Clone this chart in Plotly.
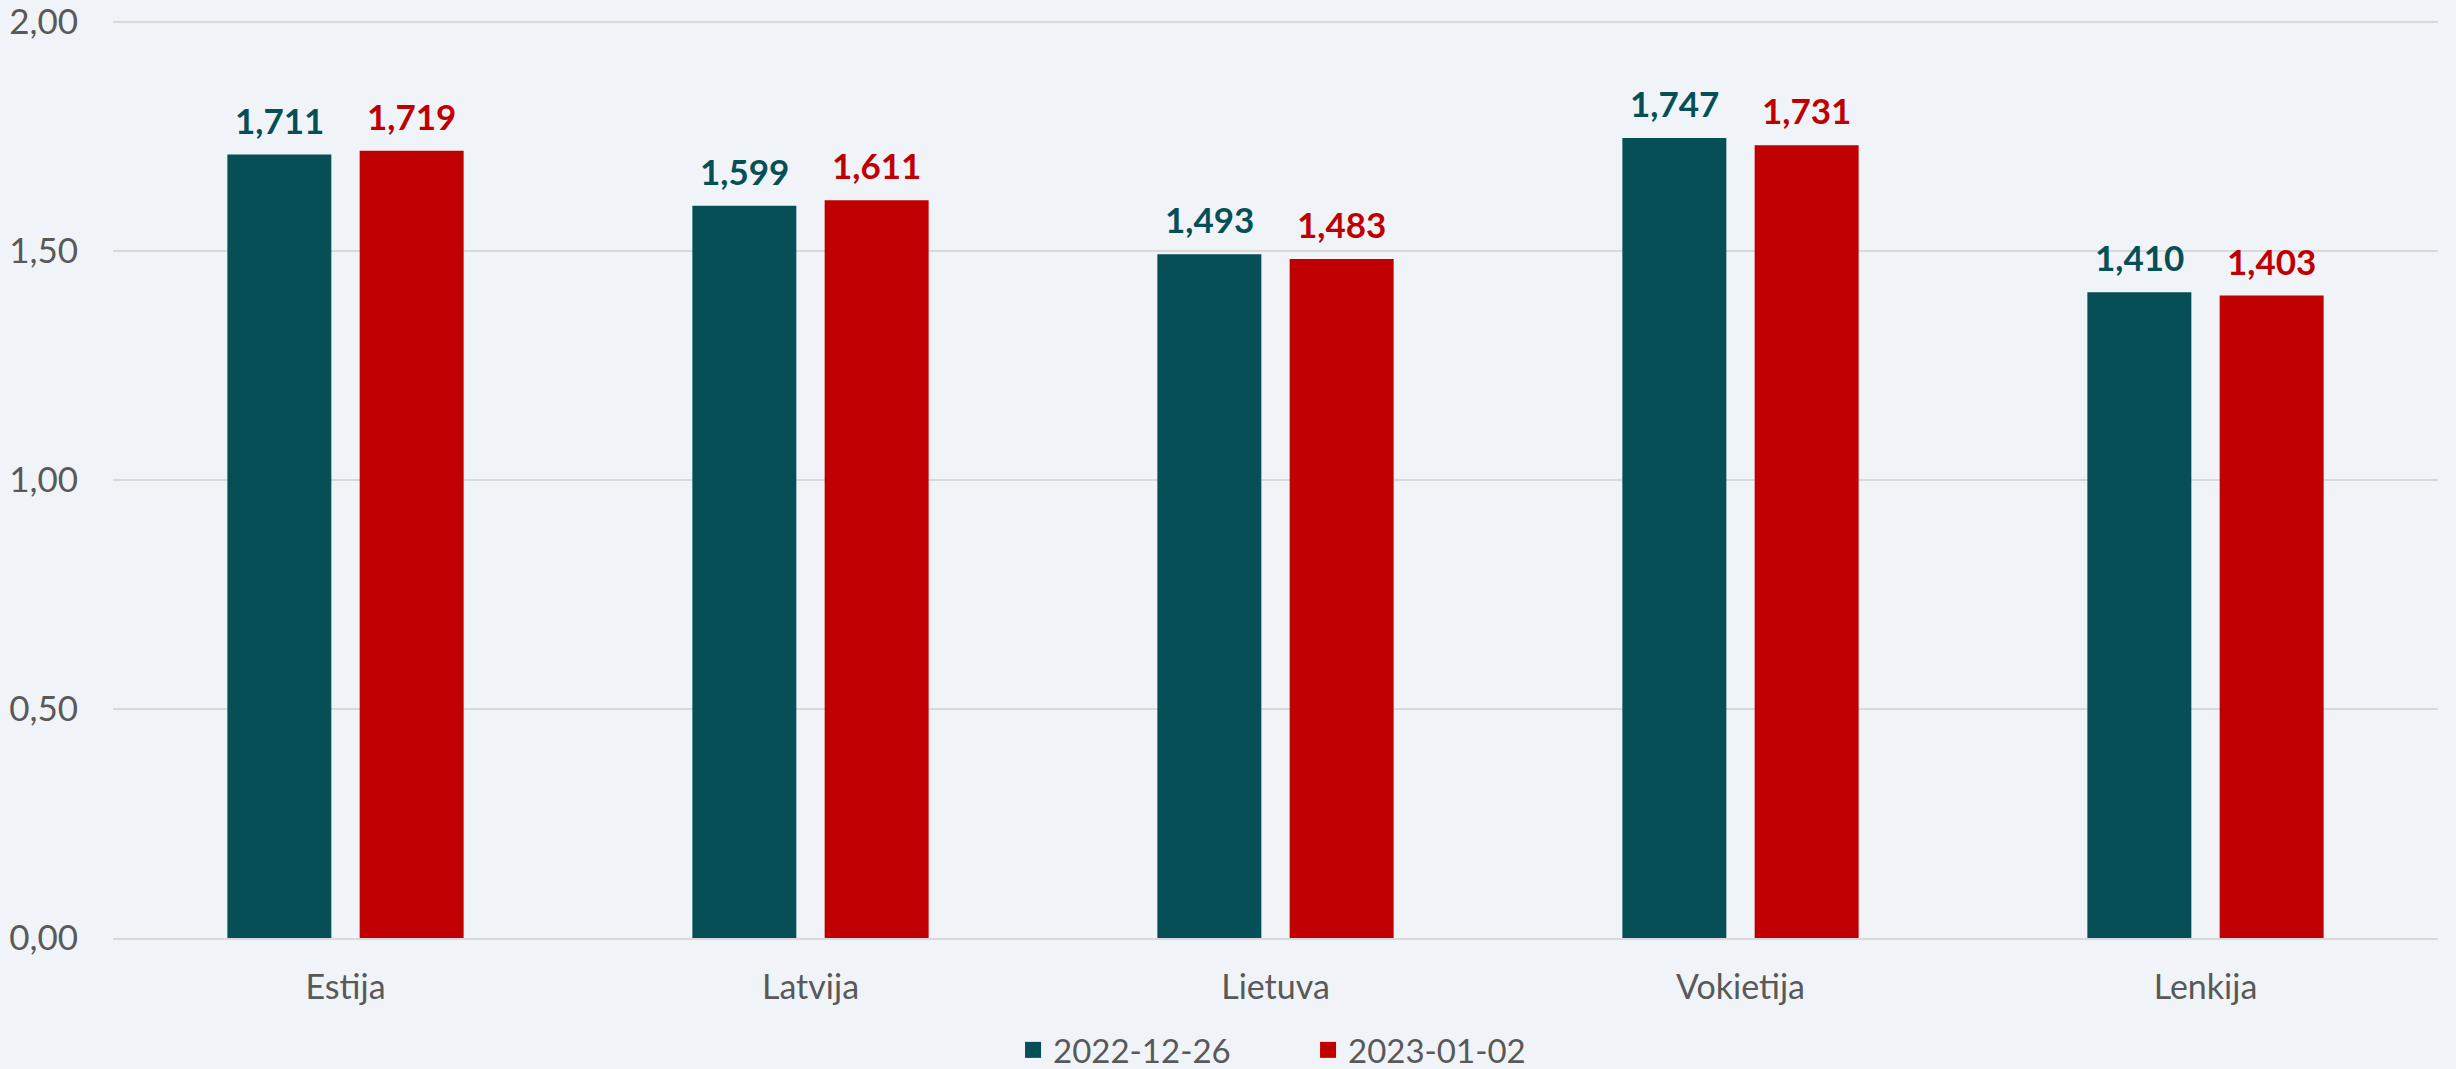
import plotly.graph_objects as go

# Fuel prices by country, two weekly snapshots
countries = ["Estija", "Latvija", "Lietuva", "Vokietija", "Lenkija"]
series_names = ["2022-12-26", "2023-01-02"]
prices_dec26 = [1.711, 1.599, 1.493, 1.747, 1.410]
prices_jan02 = [1.719, 1.611, 1.483, 1.731, 1.403]
y_ticks = [0.0, 0.5, 1.0, 1.5, 2.0]

TEAL = "#074F57"
RED = "#C00000"
BG = "#F0F4F8"
GREY_TEXT = "#595959"
FONT = "Lato"

fig = go.Figure()
for name, vals, color in [(series_names[0], prices_dec26, TEAL),
                          (series_names[1], prices_jan02, RED)]:
    fig.add_trace(go.Bar(
        x=countries, y=vals, name=name, showlegend=False,
        marker=dict(color=color, line=dict(width=0)),
        hoverinfo="x+y",
    ))
    # legend-only entry so the square can be drawn a bit bigger
    fig.add_trace(go.Scatter(
        x=[None], y=[None], mode="markers", name=name,
        marker=dict(color=color, symbol="square", size=16),
    ))

# data labels above the bars, shifted onto each bar of the group
half_slot = 66
for vals, color, shift in [(prices_dec26, TEAL, -half_slot),
                           (prices_jan02, RED, half_slot)]:
    for c, v in zip(countries, vals):
        fig.add_annotation(
            x=c, y=v, xref="x", yref="y", xshift=shift, yshift=12,
            text=f"{v:.3f}".replace(".", ","), showarrow=False,
            yanchor="bottom",
            font=dict(family=FONT, size=35, color=color, weight="bold"),
        )

fig.update_layout(
    width=2456, height=1069,
    margin=dict(l=113, r=18, t=13, b=131, autoexpand=False),
    paper_bgcolor=BG, plot_bgcolor=BG,
    barmode="group", bargap=0.431, bargroupgap=0.214,
    separators=", ",
    font=dict(family=FONT, size=34, color=GREY_TEXT),
    showlegend=True,
    legend=dict(
        orientation="h", x=0.514, xanchor="center", y=-0.121, yanchor="middle",
        font=dict(size=33, color=GREY_TEXT), bgcolor="rgba(0,0,0,0)",
        itemsizing="trace", traceorder="normal", entrywidth=250,
    ),
    xaxis=dict(
        showgrid=False, showline=True, linecolor="#D9D9D9", linewidth=2,
        ticks="", ticklabelstandoff=18, tickfont=dict(size=34, color=GREY_TEXT),
        automargin=False,
    ),
    yaxis=dict(
        range=[0, 2.02], tickvals=y_ticks, tickformat=".2f",
        showgrid=True, gridcolor="#D9D9D9", gridwidth=2,
        zeroline=False, showline=False, ticks="",
        ticklabelstandoff=34, tickfont=dict(size=35, color=GREY_TEXT),
        ticklabeloverflow="allow", automargin=False,
    ),
)

fig.write_html("out.html", config={"displayModeBar": False},
               post_script="document.body.style.margin='0';")
